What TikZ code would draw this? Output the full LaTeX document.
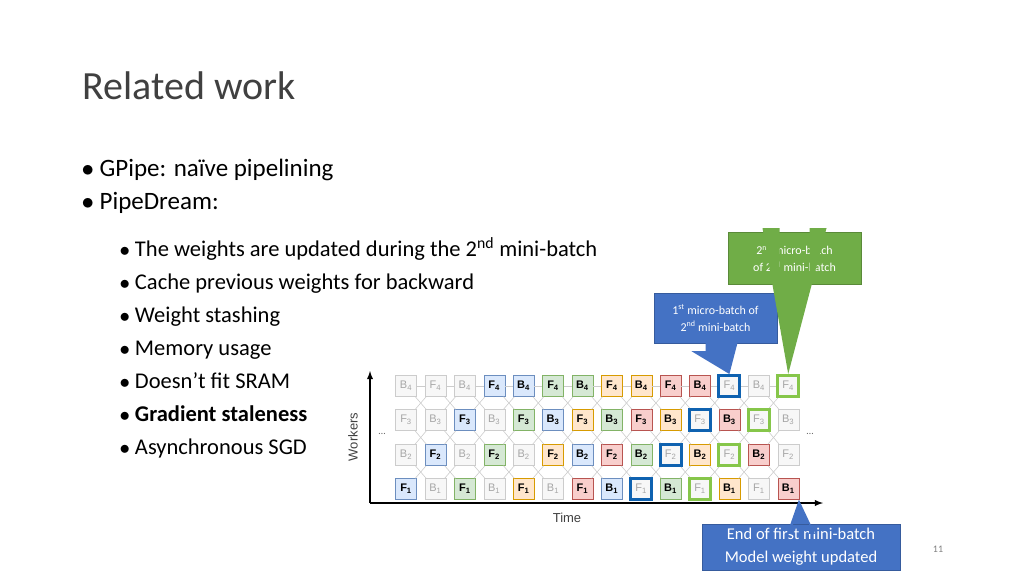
\documentclass[tikz,border=0pt]{standalone}
\usepackage{fontspec}
\setmainfont{Carlito}
\newfontfamily\cellfont{Liberation Sans}
\usetikzlibrary{positioning}
\definecolor{bluefill}{HTML}{DAE8FC}\definecolor{blueline}{HTML}{6C8EBF}
\definecolor{greenfill}{HTML}{D5E8D4}\definecolor{greenline}{HTML}{82B366}
\definecolor{orangefill}{HTML}{FFE6CC}\definecolor{orangeline}{HTML}{D79B00}
\definecolor{redfill}{HTML}{F8CECC}\definecolor{redline}{HTML}{B85450}
\definecolor{grayfill}{HTML}{F7F7F7}\definecolor{grayline}{HTML}{CCCCCC}
\definecolor{calloutblue}{HTML}{4472C4}\definecolor{calloutgreen}{HTML}{70AD47}
\definecolor{markblue}{HTML}{0F62B0}\definecolor{markgreen}{HTML}{86C64A}
\tikzset{
  cell/.style={minimum size=21pt, inner sep=0pt, font=\cellfont\fontsize{11}{11}\selectfont},
  fill-gray/.style={draw=grayline, fill=grayfill, text=black!35},
  fill-blue/.style={draw=blueline, fill=bluefill, font=\cellfont\bfseries\fontsize{11}{11}\selectfont},
  fill-green/.style={draw=greenline, fill=greenfill, font=\cellfont\bfseries\fontsize{11}{11}\selectfont},
  fill-orange/.style={draw=orangeline, fill=orangefill, font=\cellfont\bfseries\fontsize{11}{11}\selectfont},
  fill-red/.style={draw=redline, fill=redfill, font=\cellfont\bfseries\fontsize{11}{11}\selectfont},
  mark-n/.style={},
  mark-b/.style={draw=markblue, line width=3pt},
  mark-g/.style={draw=markgreen, line width=3pt},
  callout/.style={fill=#1, draw=#1!80!black, text=white, align=center, inner sep=0pt},
}
\begin{document}
\begin{tikzpicture}[x=1pt,y=-1pt]
\useasboundingbox (0,0) rectangle (1024,576);
% Title and bullets
\node[anchor=base west, font=\fontsize{40}{40}\selectfont, text=black!75] (title) at (79,99) {Related work};
\node[anchor=north west, align=left, font=\fontsize{25}{33}\selectfont] (main) at (78,156)
  {$\bullet$ GPipe: naïve pipelining\\ $\bullet$ PipeDream:};
\node[anchor=north west, align=left, font=\fontsize{22.5}{33}\selectfont] (sub) at (116,234)
  {$\bullet$ The weights are updated during the 2\textsuperscript{nd} mini-batch\\
   $\bullet$ Cache previous weights for backward\\
   $\bullet$ Weight stashing\\
   $\bullet$ Memory usage\\
   $\bullet$ Doesn’t fit SRAM\\
   $\bullet$ \textbf{Gradient staleness}\\
   $\bullet$ Asynchronous SGD};
% Axes
\coordinate (origin) at (370,503);
\coordinate (ytop) at (370,371);
\coordinate (xend) at (823,503);
\draw[line width=1.8pt, -latex] (origin) -- (ytop);
\draw[line width=1.8pt, -latex] (origin) -- (xend);
\node[rotate=90, font=\cellfont\fontsize{13}{13}\selectfont, text=black!75] (workers) at (353,437) {Workers};
\node[font=\cellfont\fontsize{13}{13}\selectfont, text=black!75] (time) at (567,518) {Time};
\node[text=black!60] (dotsl) at (382,434) {\dots};
\node[text=black!60] (dotsr) at (810,434) {\dots};
% Cells: letter/colour/marker
\foreach \r/\y/\row in {
  4/386/{B/gray/n,F/gray/n,B/gray/n,F/blue/n,B/blue/n,F/green/n,B/green/n,F/orange/n,B/orange/n,F/red/n,B/red/n,F/gray/b,B/gray/n,F/gray/g},
  3/420/{F/gray/n,B/gray/n,F/blue/n,B/gray/n,F/green/n,B/blue/n,F/orange/n,B/green/n,F/red/n,B/orange/n,F/gray/b,B/red/n,F/gray/g,B/gray/n},
  2/455/{B/gray/n,F/blue/n,B/gray/n,F/green/n,B/gray/n,F/orange/n,B/blue/n,F/red/n,B/green/n,F/gray/b,B/orange/n,F/gray/g,B/red/n,F/gray/n},
  1/489/{F/blue/n,B/gray/n,F/green/n,B/gray/n,F/orange/n,B/gray/n,F/red/n,B/blue/n,F/gray/b,B/green/n,F/gray/g,B/orange/n,F/gray/n,B/red/n}}{
  \foreach \l/\c/\m [count=\i] in \row {
    \node[cell, fill-\c, mark-\m] (c-\r-\i) at ({406+(\i-1)*29.4},\y) {\l\textsubscript{\r}};
  }
}
% Connectors
\foreach \i [evaluate=\i as \j using int(\i+1)] in {1,...,13}{
  \draw[grayline, line width=0.6pt] (c-4-\i) -- (c-4-\j);
  \foreach \r [evaluate=\r as \s using int(\r+1)] in {1,2,3}{
    \draw[grayline, line width=0.6pt] (c-\r-\i) -- (c-\s-\j);
    \draw[grayline, line width=0.6pt] (c-\s-\i) -- (c-\r-\j);
  }
}
% Callouts
\node[callout=calloutblue, minimum width=123pt, minimum height=50pt, font=\fontsize{12}{17}\selectfont] (first) at (715.5,318)
  {1\textsuperscript{st} micro-batch of\\ 2\textsuperscript{nd} mini-batch};
\fill[calloutblue] ([xshift=-10pt]first.south) -- ++(0,8) -- ++(-14,0) -- (c-4-12.north) -- ([xshift=24pt,yshift=8pt]first.south) -- ++(-14,0) -- ([xshift=10pt]first.south) -- cycle;
\node[callout=calloutgreen, minimum width=133pt, minimum height=52pt, font=\fontsize{12}{17}\selectfont] (second) at (794.5,258)
  {2\textsuperscript{nd} micro-batch\\ of 2\textsuperscript{nd} mini-batch};
\fill[calloutgreen] ([xshift=-15pt]second.south) -- ([xshift=-15pt,yshift=56pt]second.south) -- ([xshift=-32pt,yshift=56pt]second.south) -- (c-4-14.north) -- ([xshift=32pt,yshift=56pt]second.south) -- ([xshift=15pt,yshift=56pt]second.south) -- ([xshift=15pt]second.south) -- cycle;
\node[callout=calloutblue, minimum width=198pt, minimum height=46pt, font=\fontsize{16.5}{23}\selectfont] (endbatch) at (801,547)
  {End of first mini-batch\\ Model weight updated};
\fill[calloutblue] ([xshift=-8pt]endbatch.north) -- ([xshift=-8pt,yshift=-10pt]endbatch.north) -- ([xshift=-14pt,yshift=-10pt]endbatch.north) -- (c-1-14.south east) -- ([xshift=14pt,yshift=-10pt]endbatch.north) -- ([xshift=8pt,yshift=-10pt]endbatch.north) -- ([xshift=8pt]endbatch.north) -- cycle;
\node[text=black!50, font=\fontsize{10}{10}\selectfont] (page) at (938,549) {11};
\end{tikzpicture}
\end{document}
